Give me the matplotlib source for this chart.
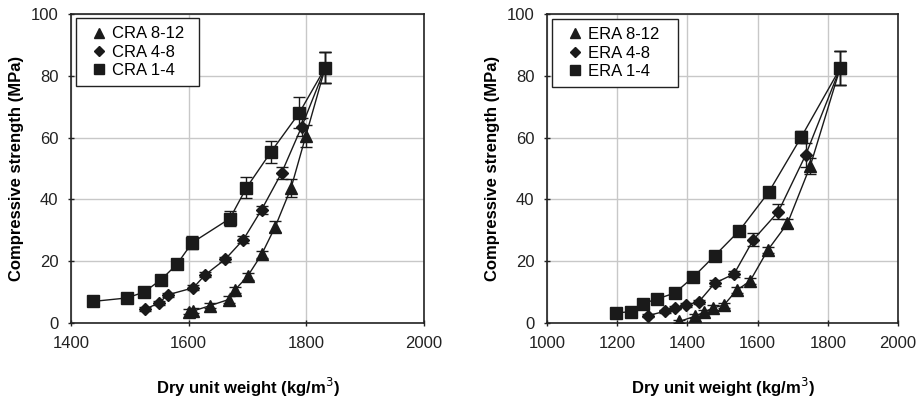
import numpy as np
import matplotlib
matplotlib.use("Agg")
from matplotlib import pyplot as plt
from matplotlib.lines import Line2D

plt.rcParams['font.family'] = ['Liberation Sans', 'DejaVu Sans']

# CRA panel
cra_labels = ["CRA 8-12", "CRA 4-8", "CRA 1-4"]
cra_8_12_x = [1601, 1608, 1636, 1668, 1678, 1700, 1724, 1747, 1774, 1799, 1832]
cra_8_12_y = [3.6, 3.9, 5.6, 7.6, 10.6, 15.1, 22.2, 31.1, 43.7, 60.5, 82.6]
cra_8_12_e = [0.8, 0.8, 0.8, 1.0, 1.0, 1.2, 1.2, 1.8, 2.8, 3.5, 5.0]
cra_4_8_x = [1526, 1550, 1564, 1608, 1628, 1662, 1693, 1724, 1758, 1792, 1832]
cra_4_8_y = [4.5, 6.5, 9.1, 11.4, 15.6, 20.6, 27.0, 36.7, 48.6, 63.5, 82.6]
cra_4_8_e = [0.6, 0.6, 0.6, 0.8, 0.8, 0.8, 1.0, 1.3, 2.0, 3.0, 5.0]
cra_1_4_x = [1438, 1495, 1524, 1553, 1580, 1606, 1670, 1698, 1740, 1788, 1832]
cra_1_4_y = [7.0, 8.1, 10.0, 14.0, 19.0, 26.0, 33.8, 43.7, 55.4, 68.0, 82.6]
cra_1_4_e = [0.8, 0.8, 1.0, 1.0, 1.0, 2.0, 2.5, 3.4, 3.6, 5.0, 5.0]

# ERA panel
era_labels = ["ERA 8-12", "ERA 4-8", "ERA 1-4"]
era_8_12_x = [1377, 1422, 1448, 1473, 1504, 1540, 1578, 1629, 1685, 1750, 1835]
era_8_12_y = [0.5, 2.2, 3.5, 4.9, 5.8, 10.6, 13.5, 23.6, 32.2, 50.8, 82.4]
era_8_12_e = [0.6, 0.6, 0.6, 0.8, 0.8, 1.0, 1.0, 1.0, 1.5, 2.5, 5.5]
era_4_8_x = [1288, 1336, 1364, 1397, 1432, 1478, 1533, 1588, 1659, 1737, 1835]
era_4_8_y = [2.4, 3.8, 4.9, 5.9, 6.8, 12.9, 15.9, 27.0, 36.0, 54.4, 82.4]
era_4_8_e = [0.5, 0.5, 0.5, 0.6, 0.6, 1.0, 1.0, 2.0, 2.5, 4.0, 5.5]
era_1_4_x = [1196, 1238, 1274, 1314, 1364, 1417, 1478, 1548, 1632, 1724, 1835]
era_1_4_y = [3.2, 3.7, 6.3, 7.8, 9.7, 14.9, 21.8, 29.9, 42.4, 60.1, 82.4]
era_1_4_e = [0.5, 0.5, 0.6, 0.6, 0.8, 0.8, 1.0, 1.0, 1.0, 2.0, 5.5]

markers = ['^', 'D', 's']
msizes = [8, 6, 8]
leg_sizes = [7, 5, 7]
col = '#1a1a1a'

fig = plt.figure(figsize=(9.21, 4.03), dpi=100)
ax1 = fig.add_axes([0.0771, 0.1985, 0.3833, 0.7668])
ax2 = fig.add_axes([0.594, 0.1985, 0.381, 0.7668])

def panel(ax, series, labels, xlim, xticks, legbox):
    for (x, y, e), m, ms in zip(series, markers, msizes):
        ax.errorbar(x, y, yerr=e, fmt='-', color=col, lw=1.0, marker=m, ms=ms,
                    mfc=col, mec=col, ecolor=col, elinewidth=1.0, capsize=4,
                    zorder=3)
    ax.set_xlim(*xlim)
    ax.set_ylim(0, 100)
    ax.set_xticks(xticks)
    ax.set_yticks(np.arange(0, 101, 20))
    ax.grid(True, color='#c8c8c8', lw=1.0, zorder=0)
    ax.set_axisbelow(True)
    for s in ax.spines.values():
        s.set_color('#222222')
        s.set_linewidth(1.2)
    ax.tick_params(direction='inout', length=4, width=1, labelsize=12,
                   colors='#222222', pad=7)
    ax.set_xlabel('Dry unit weight (kg/m$^{3}$)', fontsize=12, fontweight='bold',
                  labelpad=18)
    ax.set_ylabel('Compressive strength (MPa)', fontsize=12, fontweight='bold',
                  labelpad=5)
    handles = [Line2D([], [], ls='none', marker=m, ms=s, mfc=col, mec=col)
               for m, s in zip(markers, leg_sizes)]
    leg = ax.legend(handles, labels, loc='upper left', mode='expand',
                    bbox_to_anchor=legbox, fontsize=12, frameon=True,
                    fancybox=False, edgecolor='#222222', framealpha=1,
                    handlelength=1.8, handletextpad=-0.15, borderpad=0.5,
                    labelspacing=0.2, borderaxespad=0)
    leg.get_frame().set_linewidth(1.0)

panel(ax1,
      [(cra_8_12_x, cra_8_12_y, cra_8_12_e),
       (cra_4_8_x, cra_4_8_y, cra_4_8_e),
       (cra_1_4_x, cra_1_4_y, cra_1_4_e)],
      cra_labels, (1400, 2000), [1400, 1600, 1800, 2000],
      (0.014, 0.5, 0.348, 0.487))
panel(ax2,
      [(era_8_12_x, era_8_12_y, era_8_12_e),
       (era_4_8_x, era_4_8_y, era_4_8_e),
       (era_1_4_x, era_1_4_y, era_1_4_e)],
      era_labels, (1000, 2000), [1000, 1200, 1400, 1600, 1800, 2000],
      (0.014, 0.5, 0.359, 0.484))

fig.savefig('out.png', dpi=100)
